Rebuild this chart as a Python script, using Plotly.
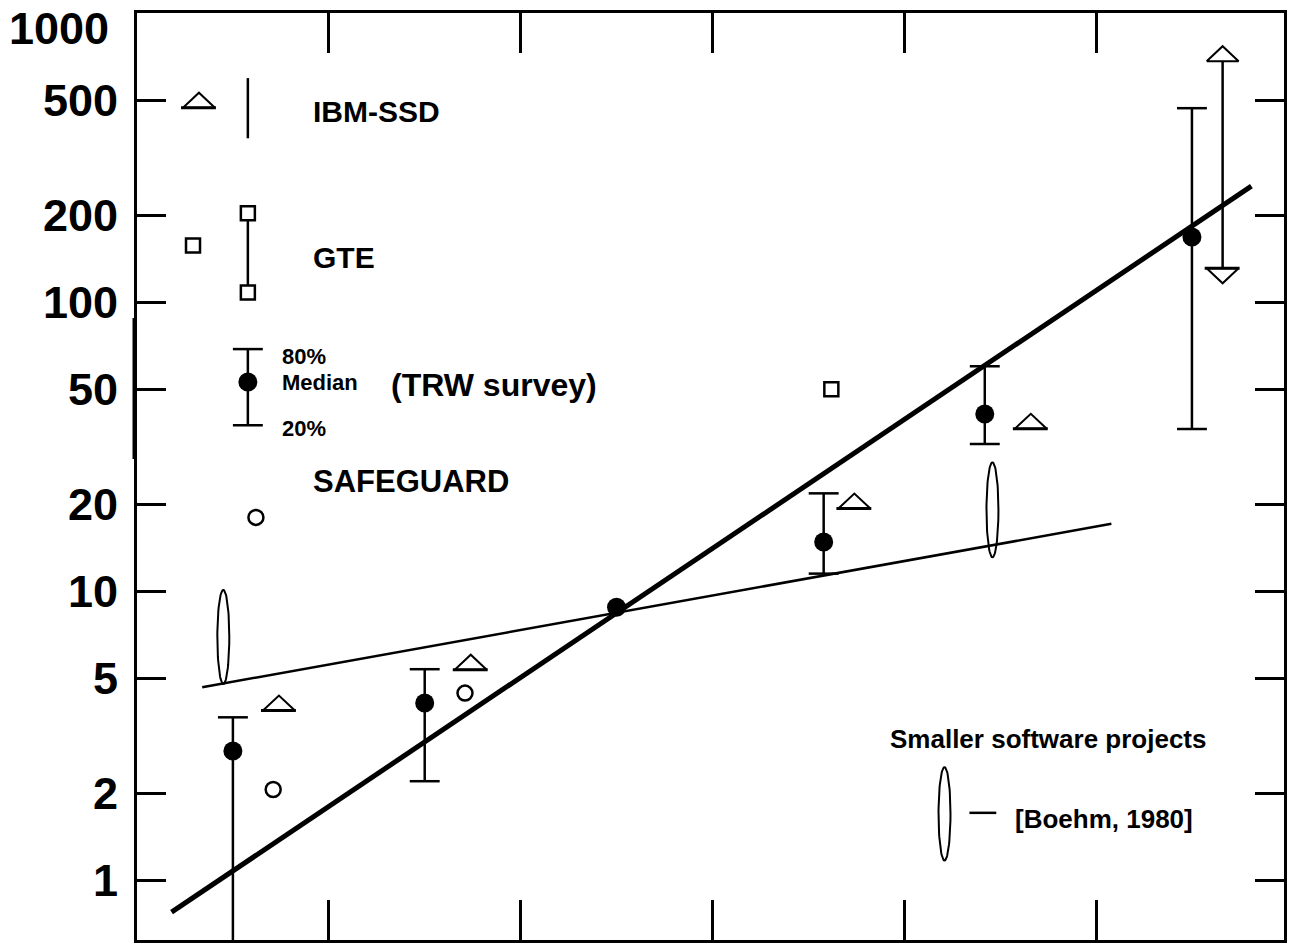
import numpy as np
import plotly.graph_objects as go

# ---------------- data ----------------
phases = ["Requirements", "Design", "Code", "Development test", "Acceptance test", "Operation"]
phase_boundaries = [0.5, 1.5, 2.5, 3.5, 4.5]

# TRW survey: median, 80% and 20% values
trw_x = [0.0, 1.0, 2.0, 3.08, 3.92, 5.0]
trw_median = [2.8, 4.1, 8.8, 14.8, 41.0, 168.0]
trw_high = [3.66, 5.37, None, 21.8, 60.0, 469.0]
trw_low = [0.5, 2.2, None, 11.5, 32.3, 36.4]

# IBM-SSD (open triangles) and the operation range (arrows)
ibm_x = [0.24, 1.24, 3.24, 4.16]
ibm_y = [4.1, 5.68, 20.5, 38.7]
ibm_range_x = [5.16]
ibm_range_low = [131.0]
ibm_range_high = [682.0]

# GTE (open squares)
gte_x = [3.12]
gte_y = [50.0]

# SAFEGUARD (open circles)
safeguard_x = [0.21, 1.21]
safeguard_y = [2.06, 4.44]

# Smaller software projects (ellipses: low/high)
small_x = [-0.05, 3.96]
small_low = [4.77, 13.1]
small_high = [10.1, 27.9]

# trend lines
large_fit_x = [-0.32, 5.31]
large_fit_y = [0.775, 252.0]
small_fit_x = [-0.16, 4.58]
small_fit_y = [4.65, 17.1]

# y axis ticks
ytick_vals = [1, 2, 5, 10, 20, 50, 100, 200, 500, 1000]
ytick_text = ["1", "2", "5", "10", "20", "50", "100", "200", "500", "1000"]

# legend keys (inside the plot)
key_ibm_tri = (-0.177, 500.0)
key_ibm_line = (0.078, 369.0, 596.0)
key_gte_sq = (-0.208, 157.0)
key_gte_range = (0.078, 108.0, 203.0)
key_trw = (0.078, 52.9, 37.5, 68.8)   # x, median, 20%, 80%
key_safe = (0.12, 18.0)
key_small = (3.71, 1.17, 2.46)
key_dash = (3.84, 3.98, 1.71)

# ---------------- geometry helpers ----------------
W, H = 1289, 944
L, R, T, B = 137, 2, 13, 4
XR = [-0.5, 5.48]
YR = [-0.207, 3.0005]
PXX = (W - L - R) / (XR[1] - XR[0])        # px per x unit
PXD = (H - T - B) / (YR[1] - YR[0])        # px per decade


def triangle(xc, v, up=True, anchor="center", w=32, h=15):
    dx = w / 2 / PXX
    dl = h / PXD
    lv = np.log10(v)
    if anchor == "center":
        base = lv - dl / 2 if up else lv + dl / 2
    else:
        base = lv
    apex = base + dl if up else base - dl
    xs = [xc - dx, xc + dx, xc, xc - dx, None]
    ys = [10 ** base, 10 ** base, 10 ** apex, 10 ** base, None]
    bx = [xc - dx - 2 / PXX, xc + dx + 1 / PXX, None]
    by = [10 ** base, 10 ** base, None]
    return xs, ys, bx, by


def ellipse(xc, lo, hi, w=12):
    t = np.linspace(0, 2 * np.pi, 80)
    a = w / 2 / PXX
    llo, lhi = np.log10(lo), np.log10(hi)
    lc, b = (llo + lhi) / 2, (lhi - llo) / 2
    xs = list(xc + a * np.cos(t)) + [None]
    ys = list(10 ** (lc + b * np.sin(t))) + [None]
    return xs, ys


def errbars(xs, lows, highs, cap=30):
    cw = cap / 2 / PXX
    ox, oy = [], []
    for x, lo, hi in zip(xs, lows, highs):
        if lo is None or hi is None:
            continue
        ox += [x, x, None, x - cw, x + cw, None, x - cw, x + cw, None]
        oy += [lo, hi, None, hi, hi, None, lo, lo, None]
    return ox, oy


def paper(px, py):
    return (px - L) / (W - L - R), (H - B - py) / (H - T - B)


fig = go.Figure()
black = "black"


def add_line(xs, ys, width):
    fig.add_trace(go.Scatter(x=xs, y=ys, mode="lines",
                             line=dict(color=black, width=width),
                             hoverinfo="skip", showlegend=False))


# trend lines
add_line(large_fit_x, large_fit_y, 5)
add_line(small_fit_x, small_fit_y, 2.5)

# TRW error bars (data + legend key)
ex, ey = errbars(trw_x + [key_trw[0]], trw_low + [key_trw[2]], trw_high + [key_trw[3]])
add_line(ex, ey, 2.5)

# IBM / GTE vertical range lines
ix, iy = [], []
for x, lo, hi in zip(ibm_range_x, ibm_range_low, ibm_range_high):
    ix += [x, x, None]
    iy += [lo, hi, None]
ix += [key_ibm_line[0], key_ibm_line[0], None]
iy += [key_ibm_line[1], key_ibm_line[2], None]
ix += [key_gte_range[0], key_gte_range[0], None]
iy += [key_gte_range[1], key_gte_range[2], None]
add_line(ix, iy, 2.5)

# triangles
tx, ty, bx, by = [], [], [], []
for x, v in zip(ibm_x + [key_ibm_tri[0]], ibm_y + [key_ibm_tri[1]]):
    a, b, c, d = triangle(x, v)
    tx += a; ty += b; bx += c; by += d
for x, lo, hi in zip(ibm_range_x, ibm_range_low, ibm_range_high):
    a, b, c, d = triangle(x, hi, up=True, anchor="base")
    tx += a; ty += b
    a, b, c, d = triangle(x, lo, up=False, anchor="base")
    tx += a; ty += b; bx += c; by += d
add_line(tx, ty, 2)
add_line(bx, by, 3)

# ellipses
ex2, ey2 = [], []
for x, lo, hi in zip(small_x + [key_small[0]], small_low + [key_small[1]], small_high + [key_small[2]]):
    a, b = ellipse(x, lo, hi)
    ex2 += a; ey2 += b
add_line(ex2, ey2, 2)

# legend dash
add_line([key_dash[0], key_dash[1]], [key_dash[2], key_dash[2]], 2.5)

# filled median circles
fig.add_trace(go.Scatter(x=trw_x + [key_trw[0]], y=trw_median + [key_trw[1]], mode="markers",
                         marker=dict(symbol="circle", size=19, color=black),
                         hoverinfo="skip", showlegend=False))
# GTE squares
fig.add_trace(go.Scatter(x=gte_x + [key_gte_sq[0], key_gte_range[0], key_gte_range[0]],
                         y=gte_y + [key_gte_sq[1], key_gte_range[1], key_gte_range[2]],
                         mode="markers",
                         marker=dict(symbol="square", size=14, color="white",
                                     line=dict(color=black, width=2.5)),
                         hoverinfo="skip", showlegend=False))
# SAFEGUARD circles
fig.add_trace(go.Scatter(x=safeguard_x + [key_safe[0]], y=safeguard_y + [key_safe[1]],
                         mode="markers",
                         marker=dict(symbol="circle", size=15, color="white",
                                     line=dict(color=black, width=2.5)),
                         hoverinfo="skip", showlegend=False))

# small doubled segment of the left frame seen in the scanned original
x0p, _ = paper(L - 3.5, 0)
_, y0p = paper(0, 459)
_, y1p = paper(0, 318)
fig.add_shape(type="line", xref="paper", yref="paper", x0=x0p, x1=x0p, y0=y0p, y1=y1p,
              line=dict(color=black, width=2))

# ---------------- text ----------------
FONT = "Liberation Sans, Arial, sans-serif"


def label(text, px, py, size, anchor="left"):
    xp, yp = paper(px, py)
    fig.add_annotation(text=text, x=xp, y=yp, xref="paper", yref="paper",
                       xanchor=anchor, yanchor="middle", showarrow=False,
                       font=dict(family=FONT, size=size, color=black, weight="bold"))


label("IBM-SSD", 311, 112, 30)
label("GTE", 311, 257, 30)
label("80%", 280, 356, 22)
label("Median", 280, 383, 22)
label("(TRW survey)", 390, 385, 32)
label("20%", 280, 428, 22)
label("SAFEGUARD", 311, 481, 31)
label("Smaller software projects", 1050, 739, 26, anchor="center")
label("[Boehm, 1980]", 1015, 819, 26)

# top tick label (sits below the top edge in the reference)
fig.add_annotation(text=ytick_text[-1], xref="paper", x=0, xshift=-26, xanchor="right",
                   yref="y", y=np.log10(ytick_vals[-1]), yshift=-15, yanchor="middle",
                   showarrow=False,
                   font=dict(family=FONT, size=45, color=black, weight="bold"))
shown_text = ytick_text[:-1] + [""]

fig.update_layout(
    width=W, height=H,
    margin=dict(l=L, r=R, t=T, b=B),
    plot_bgcolor="white", paper_bgcolor="white",
    showlegend=False,
    xaxis=dict(range=XR, showgrid=False, zeroline=False, showline=True,
               linecolor=black, linewidth=3, mirror="ticks", ticks="inside",
               ticklen=40, tickwidth=2.5, tickcolor=black,
               tickvals=phase_boundaries, showticklabels=False),
    yaxis=dict(type="log", range=YR, showgrid=False, zeroline=False, showline=True,
               linecolor=black, linewidth=3, mirror="ticks", ticks="inside",
               ticklen=29, tickwidth=2.5, tickcolor=black,
               tickvals=ytick_vals, ticktext=shown_text, ticklabelstandoff=7,
               tickfont=dict(family=FONT, size=45, color=black, weight="bold")),
)

fig.write_html("out.html", config={"displayModeBar": False},
               post_script="document.body.style.margin='0';document.body.style.overflow='hidden';")
